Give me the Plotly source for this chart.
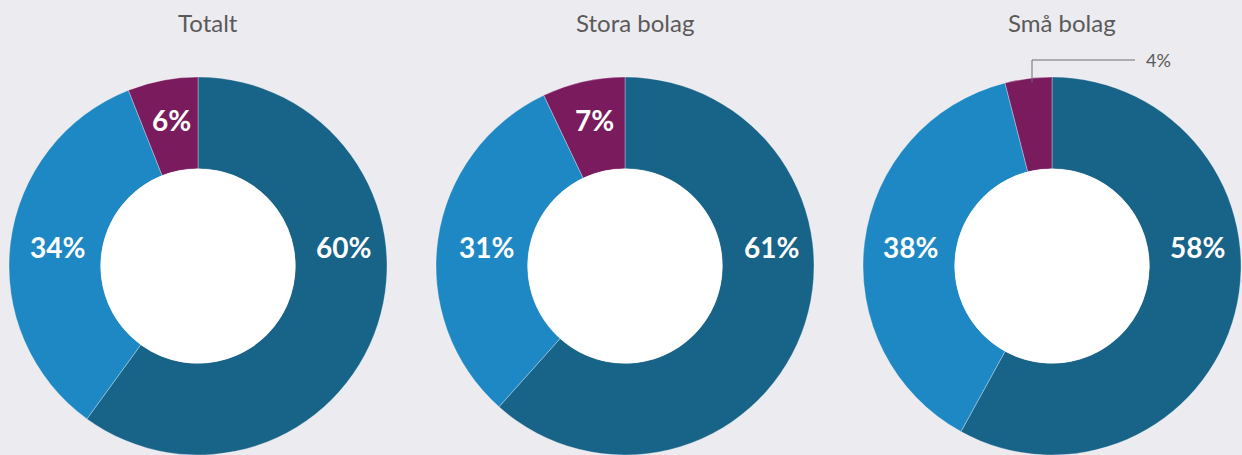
import plotly.graph_objects as go

W, H = 1242, 455

titles = ['Totalt', 'Stora bolag', 'Små bolag']
categories = ['Kategori A', 'Kategori B', 'Kategori C']
totalt = [60, 34, 6]
stora = [61, 31, 7]
sma = [58, 38, 4]
series = [totalt, stora, sma]

colors = ['#186388', '#1e88c5', '#7a1b5e']
bg = '#ecebf0'

# pie geometry in pixels
centers_x = [198, 625, 1052]
center_y = 266
R = 189
hole = 0.515

# label anchor positions (px) per pie: dark, light, purple
label_pos = [
    [(343, 247), (57, 247), (171, 120)],
    [(771, 247), (486, 247), (594, 120)],
    [(1197, 247), (910, 247), None],
]

fig = go.Figure()

for i, vals in enumerate(series):
    cx = centers_x[i]
    fig.add_trace(go.Pie(
        labels=categories,
        values=vals,
        sort=False,
        direction='clockwise',
        rotation=0,
        hole=hole,
        textinfo='none',
        hoverinfo='label+percent',
        showlegend=False,
        marker=dict(colors=colors, line=dict(color='rgba(255,255,255,0.5)', width=0.6)),
        domain=dict(x=[(cx - R) / W, (cx + R) / W],
                    y=[(H - center_y - R) / H, (H - center_y + R) / H]),
    ))
    # white hole
    rh = R * hole
    fig.add_shape(type='circle', xref='paper', yref='paper', layer='above',
                  x0=(cx - rh) / W, x1=(cx + rh) / W,
                  y0=(H - center_y - rh) / H, y1=(H - center_y + rh) / H,
                  fillcolor='white', line=dict(width=0))
    # title
    fig.add_annotation(text=titles[i], x=(cx + 10) / W, y=(H - 22) / H,
                       xref='paper', yref='paper', showarrow=False,
                       xanchor='center', yanchor='middle',
                       font=dict(family='Lato', size=24, color='#5a5a5a'))
    for j, v in enumerate(vals):
        p = label_pos[i][j]
        if p is None:
            continue
        fig.add_annotation(text=f'<b>{v}%</b>', x=p[0] / W, y=(H - p[1]) / H,
                           xref='paper', yref='paper', showarrow=False,
                           xanchor='center', yanchor='middle',
                           font=dict(family='Lato', size=28, color='white'))

# outside label for small purple slice in "Små bolag"
fig.add_shape(type='path', xref='paper', yref='paper',
              path=f'M {1032 / W} {(H - 82) / H} L {1032 / W} {(H - 60) / H} L {1135 / W} {(H - 60) / H}',
              line=dict(color='#6f6f6f', width=1))
fig.add_annotation(text=f'{sma[2]}%', x=1158 / W, y=(H - 60) / H,
                   xref='paper', yref='paper', showarrow=False,
                   xanchor='center', yanchor='middle',
                   font=dict(family='Lato', size=18, color='#5a5a5a'))

fig.update_layout(
    width=W, height=H,
    margin=dict(l=0, r=0, t=0, b=0),
    paper_bgcolor=bg, plot_bgcolor=bg,
)
fig.write_html('out.html', config={'displayModeBar': False},
               post_script="document.body.style.margin='0px';")
